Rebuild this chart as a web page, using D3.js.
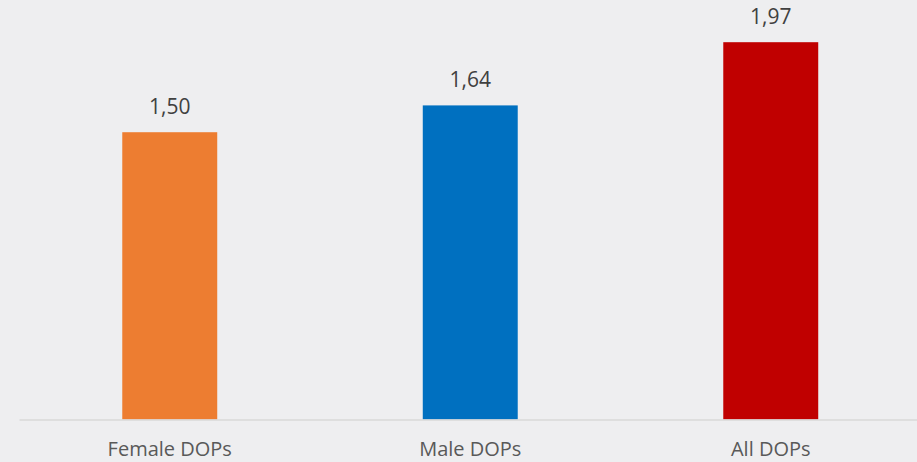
<!DOCTYPE html>
<html><head><meta charset="utf-8">
<script src="https://cdn.jsdelivr.net/npm/d3@7"></script>
<style>body{margin:0;background:#EEEEF0;}svg{display:block;}</style>
</head><body>
<script>
const categories = ["Female DOPs", "Male DOPs", "All DOPs"];
const values = [1.50, 1.64, 1.97];
const colors = ["#ED7D31", "#0070C0", "#C00000"];

const W = 917, H = 462;
const svg = d3.select("body").append("svg").attr("width", W).attr("height", H);
svg.append("rect").attr("width", W).attr("height", H).attr("fill", "#EEEEF0");

const x = d3.scaleBand().domain(categories).range([19.5, 921]).paddingInner(0.684).paddingOuter(0.342);
const y = d3.scaleLinear().domain([0, 1.97]).range([419.5, 42.2]);

const fmt = v => v.toFixed(2).replace(".", ",");

svg.selectAll("rect.bar").data(values).join("rect").attr("class", "bar")
  .attr("x", (d, i) => x(categories[i]))
  .attr("width", x.bandwidth())
  .attr("y", d => y(d))
  .attr("height", d => y(0) - y(d))
  .attr("fill", (d, i) => colors[i]);

svg.append("line").attr("x1", 19.5).attr("x2", W).attr("y1", 420).attr("y2", 420)
  .attr("stroke", "#D9D9D9").attr("stroke-width", 1.5);

svg.selectAll("text.val").data(values).join("text").attr("class", "val")
  .attr("x", (d, i) => x(categories[i]) + x.bandwidth() / 2)
  .attr("y", d => y(d) - 18.5)
  .attr("text-anchor", "middle")
  .attr("font-family", "Open Sans, sans-serif").attr("font-size", 21)
  .attr("fill", "#404040").text(fmt);

svg.selectAll("text.cat").data(categories).join("text").attr("class", "cat")
  .attr("x", d => x(d) + x.bandwidth() / 2)
  .attr("y", 456)
  .attr("text-anchor", "middle")
  .attr("font-family", "Open Sans, sans-serif").attr("font-size", 20)
  .attr("fill", "#595959").text(d => d);
</script>
</body></html>
